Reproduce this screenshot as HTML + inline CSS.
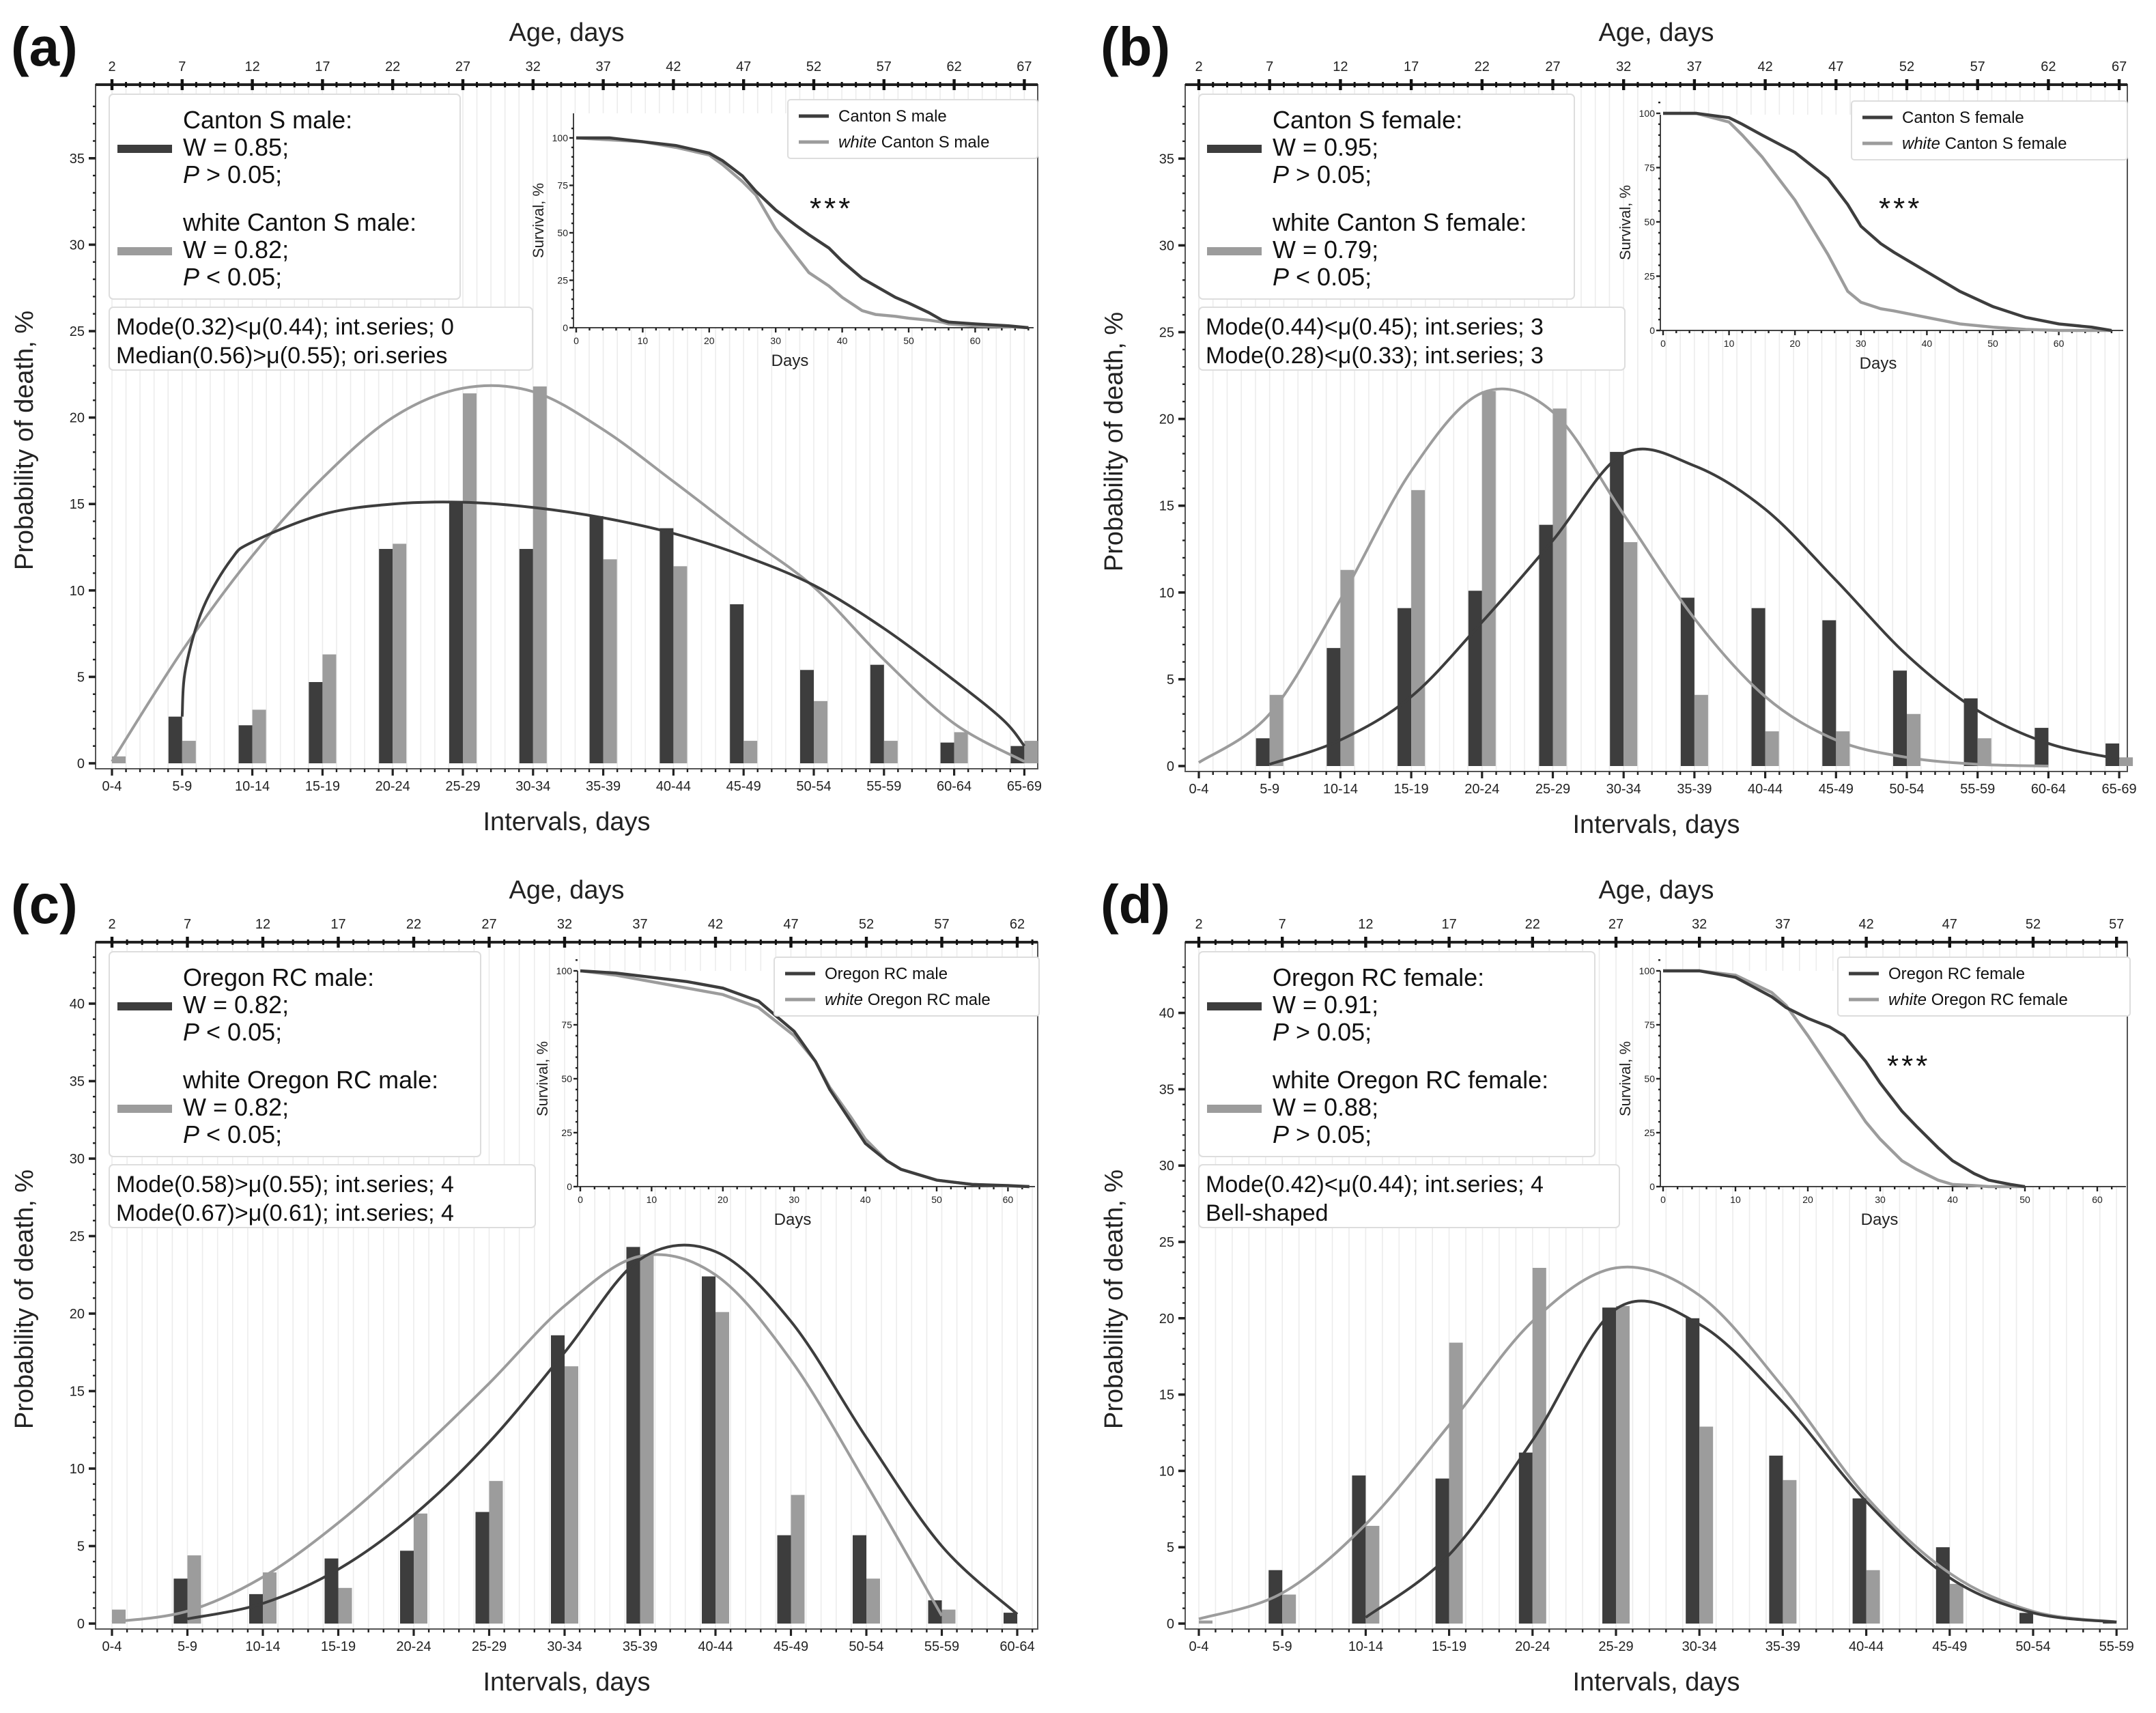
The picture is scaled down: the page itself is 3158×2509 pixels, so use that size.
<!DOCTYPE html>
<html><head><meta charset="utf-8">
<style>
html,body{margin:0;padding:0;background:#fff;}
svg{display:block;font-family:"Liberation Sans","DejaVu Sans",sans-serif;}
</style></head>
<body>
<svg id="fig" width="3158" height="2509" viewBox="0 0 1579 1254.5" xmlns="http://www.w3.org/2000/svg"></svg>
<script>
// ---------- DATA ----------
const catsA = ["0-4","5-9","10-14","15-19","20-24","25-29","30-34","35-39","40-44","45-49","50-54","55-59","60-64","65-69"];
const catsC = ["0-4","5-9","10-14","15-19","20-24","25-29","30-34","35-39","40-44","45-49","50-54","55-59","60-64"];
const catsD = ["0-4","5-9","10-14","15-19","20-24","25-29","30-34","35-39","40-44","45-49","50-54","55-59"];
const barsDarkA = [0,2.7,2.2,4.7,12.4,15.1,12.4,14.3,13.6,9.2,5.4,5.7,1.2,1.0];
const barsLightA = [0.4,1.3,3.1,6.3,12.7,21.4,21.8,11.8,11.4,1.3,3.6,1.3,1.8,1.3];
const barsDarkB = [0,1.6,6.8,9.1,10.1,13.9,18.1,9.7,9.1,8.4,5.5,3.9,2.2,1.3];
const barsLightB = [0,4.1,11.3,15.9,21.6,20.6,12.9,4.1,2.0,2.0,3.0,1.6,0,0.5];
const barsDarkC = [0,2.9,1.9,4.2,4.7,7.2,18.6,24.3,22.4,5.7,5.7,1.5,0.7];
const barsLightC = [0.9,4.4,3.3,2.3,7.1,9.2,16.6,23.8,20.1,8.3,2.9,0.9,0];
const barsDarkD = [0,3.5,9.7,9.5,11.2,20.7,20.0,11.0,8.2,5.0,0.7,0.2];
const barsLightD = [0.2,1.9,6.4,18.4,23.3,20.8,12.9,9.4,3.5,2.6,0,0];
// fitted curves (category index -> %)
const fitDarkAx = [1,1.05,1.3,1.7,2,3,4,5,6,7,8,9,10,11,12,12.7,13];
const fitDarkAy = [2.7,5.5,9,11.8,12.8,14.4,15,15.1,14.8,14.2,13.3,12,10.3,7.8,4.8,2.5,1];
const fitLightAx = [0,1,2,3,4,5,6,7,8,9,10,11,12,13];
const fitLightAy = [0.1,6.5,12,16.5,20,21.7,21.5,19.3,16.3,13.2,10.2,6,2.3,0.1];
const fitDarkBx = [1,2,3,4,5,6,7,8,9,10,11,12,13];
const fitDarkBy = [0.1,1.5,4,8.3,13,18.0,17.3,14.8,10.7,6.4,3.2,1.3,0.4];
const fitLightBx = [0,1,2,3,4,5,6,7,8,9,10,11,12];
const fitLightBy = [0.2,3,9.6,17,21.5,20.4,14.5,8.5,4,1.5,0.5,0.1,0];
const fitDarkCx = [1,2,3,4,5,6,7,8,9,10,11,12];
const fitDarkCy = [0.3,1.3,3.5,7,11.7,17.5,23.5,24.0,19.5,12,5,0.6];
const fitLightCx = [0,1,2,3,4,5,6,7,8,9,10,11];
const fitLightCy = [0.1,0.8,3,6.5,10.8,15.5,20.5,23.7,22.5,17,9,0.5];
const fitDarkDx = [2,3,4,5,6,7,8,9,10,11];
const fitDarkDy = [0.4,4.5,12,20.6,19.6,14.5,8,3,0.7,0.1];
const fitLightDx = [0,1,2,3,4,5,6,7,8,9,10,11];
const fitLightDy = [0.3,2,6.5,13,19.8,23.3,21.5,15.5,8.3,3.3,0.8,0.1];
// survival insets (day -> %)
const survDaysA = [0,5,10,15,20,22,25,27,30,33,35,38,40,43,45,48,50,53,55,56,60,65,68];
const survDarkA = [100,100,98,96,92,88,80,72,62,54,49,42,35,26,22,16,13,8,4,3,2,1,0];
const survLightA = [100,99,98,95,91,86,77,70,52,38,29,22,16,9,7,6,5,4,3,2,1,0.5,0];
const survDaysB = [0,5,10,12,15,20,25,28,30,33,35,40,45,50,55,60,65,68];
const survDarkB = [100,100,98,95,90,82,70,58,48,40,36,27,18,11,6,3,1.5,0];
const survLightB = [100,100,96,90,80,60,35,18,13,10,9,6,3,1.5,0.5,0,0,0];
const survDaysC = [0,5,10,15,20,25,30,33,35,38,40,43,45,50,55,60,63];
const survDarkC = [100,99,97,95,92,86,72,58,45,30,20,12,8,3,1,0.5,0];
const survLightC = [100,98,95,92,89,83,70,58,46,32,22,12,8,3,1,0.3,0];
const survDaysD = [0,5,10,15,17,20,23,25,28,30,33,35,38,40,43,45,48,50];
const survDarkD = [100,100,97,88,83,78,74,70,58,48,35,28,18,12,6,3,1,0];
const survLightD = [100,100,98,90,84,70,55,45,30,22,12,8,3,1,0.5,0,0,0];
const yTicksAB = [0,5,10,15,20,25,30,35];
const yTicksCD = [0,5,10,15,20,25,30,35,40];
const survTicks = [0,25,50,75,100];
const dayTicks = [0,10,20,30,40,50,60];

// ---------- DRAW ----------
const NS="http://www.w3.org/2000/svg";
const svg=document.getElementById('fig');
function el(tag,attrs,parent,txt){const e=document.createElementNS(NS,tag);for(const k in attrs)e.setAttribute(k,attrs[k]);if(txt!==undefined)e.textContent=txt;(parent||svg).appendChild(e);return e;}
const DARK="#3d3d3d", LIGHT="#9c9c9c";

function smoothPath(pts){
  let d="M"+pts[0][0]+","+pts[0][1];
  for(let i=0;i<pts.length-1;i++){
    const p0=pts[Math.max(0,i-1)],p1=pts[i],p2=pts[i+1],p3=pts[Math.min(pts.length-1,i+2)];
    const c1=[p1[0]+(p2[0]-p0[0])/6,p1[1]+(p2[1]-p0[1])/6];
    const c2=[p2[0]-(p3[0]-p1[0])/6,p2[1]-(p3[1]-p1[1])/6];
    d+=" C"+c1[0]+","+c1[1]+" "+c2[0]+","+c2[1]+" "+p2[0]+","+p2[1];
  }
  return d;
}
function stepPath(xs,ys,fx,fy){
  let d="";
  for(let i=0;i<xs.length;i++){d+=(i?"L":"M")+fx(xs[i])+","+fy(ys[i])+" ";}
  return d;
}

function panel(P){
  const g=el('g',{},svg);
  
  
  const fx=i=>P.x0+P.step*i, fy=v=>P.y0-P.py*v;
  const nDays=(P.cats.length-1)*5;
  for(let k=0;k<=nDays+1;k++){const x=P.x0+P.step*k/5; if(x>P.R)break; el('line',{x1:x,x2:x,y1:P.T,y2:P.B,stroke:"#ececec","stroke-width":0.8},g);}
  el('rect',{x:P.L,y:P.T,width:P.R-P.L,height:P.B-P.T,fill:"none",stroke:"#555","stroke-width":1},g);
  el('line',{x1:P.L,x2:P.R,y1:P.T,y2:P.T,stroke:"#222","stroke-width":2},g);
  for(let k=0;k<=nDays+1;k++){const x=P.x0+P.step*k/5;if(x>P.R)break;const maj=k%5===0;
    el('line',{x1:x,x2:x,y1:P.T-(maj?4:2),y2:P.T+(maj?4:2),stroke:"#111","stroke-width":maj?2.2:1.5},g);
    if(maj){const t=el('text',{x:x,y:P.T-10,"font-size":10,"text-anchor":"middle",fill:"#222"},g,String(2+k));}}
  const at=el('text',{x:(P.L+P.R)/2,y:P.T-32,"font-size":19,"text-anchor":"middle",fill:"#222"},g,"Age, days");
  
  for(let v=0;v<=P.yMaxMinor;v++){const y=fy(v);if(y<P.T)break;const maj=v%5===0;
    el('line',{x1:P.L-(maj?5:2),x2:P.L,y1:y,y2:y,stroke:"#222","stroke-width":maj?1.8:1.2},g);}
  P.yTicks.forEach(v=>{const t=el('text',{x:P.L-8,y:fy(v)+3.5,"font-size":10,"text-anchor":"end",fill:"#222"},g,String(v));});
  const yt=el('text',{x:0,y:0,"font-size":19,"text-anchor":"middle",fill:"#222",transform:`translate(${P.L-46},${(P.T+P.B)/2+10}) rotate(-90)`},g,"Probability of death, %");
  
  P.cats.forEach((c,i)=>{const x=fx(i);el('line',{x1:x,x2:x,y1:P.B,y2:P.B+5,stroke:"#222","stroke-width":1.6},g);
    for(let m=1;m<5;m++){const xm=x+P.step*m/5;if(xm<P.R)el('line',{x1:xm,x2:xm,y1:P.B,y2:P.B+2.5,stroke:"#222","stroke-width":1.2},g);}
    const t=el('text',{x:x,y:P.B+16,"font-size":10,"text-anchor":"middle",fill:"#222"},g,c);});
  const xt=el('text',{x:(P.L+P.R)/2,y:P.B+45,"font-size":19,"text-anchor":"middle",fill:"#222"},g,"Intervals, days");
  
  P.dark.forEach((v,i)=>{if(v<=0)return;const r=el('rect',{x:fx(i)-10,y:fy(v),width:10,height:P.y0-fy(v),fill:DARK},g);});
  P.light.forEach((v,i)=>{if(v<=0)return;const r=el('rect',{x:fx(i),y:fy(v),width:10,height:P.y0-fy(v),fill:LIGHT},g);});
  const cl=el('path',{d:smoothPath(P.flx.map((x,i)=>[fx(x),fy(P.fly[i])])),fill:"none",stroke:LIGHT,"stroke-width":2},g);
  
  const cd=el('path',{d:smoothPath(P.fdx.map((x,i)=>[fx(x),fy(P.fdy[i])])),fill:"none",stroke:DARK,"stroke-width":2},g);
  
  const pl=el('text',{x:P.L-62,y:P.T-14,"font-size":40,"font-weight":"bold",fill:"#111"},g,"("+P.id+")");
  
  const lb=el('g',{},g);
  el('rect',{x:P.L+10,y:P.T+7,width:P.lgW,height:150,rx:3,fill:"#fff",stroke:"#ddd","stroke-width":1},lb);
  el('line',{x1:P.L+16,x2:P.L+56,y1:P.T+47,y2:P.T+47,stroke:DARK,"stroke-width":6},lb);
  el('line',{x1:P.L+16,x2:P.L+56,y1:P.T+122,y2:P.T+122,stroke:LIGHT,"stroke-width":6},lb);
  P.lg.forEach((s,i)=>{const y=P.T+32+i*20+(i>=3?15:0);
    const t=el('text',{x:P.L+64,y:y,"font-size":18,fill:"#111"},lb);
    if(s.startsWith("P ")){el('tspan',{"font-style":"italic"},t,"P");el('tspan',{},t,s.slice(1));}else t.textContent=s;});
  const sb=el('g',{},g);
  el('rect',{x:P.L+10,y:P.T+163,width:P.sbW,height:46,rx:3,fill:"#fff",stroke:"#ddd","stroke-width":1},sb);
  P.sb.forEach((s,i)=>el('text',{x:P.L+15,y:P.T+183+i*21,"font-size":17,fill:"#111"},sb,s));
  const I=P.ins, ig=el('g',{},g);
  const ix=d=>I.x0+I.pd*d, iy=s=>I.y0-(I.y0-I.y100)*s/100;
  el('rect',{x:I.L,y:I.T,width:I.R-I.L,height:I.y0-I.T,fill:"#fff"},ig);
  el('line',{x1:I.L,x2:I.L,y1:I.T,y2:I.y0,stroke:"#444","stroke-width":1},ig);
  el('line',{x1:I.L,x2:I.R,y1:I.y0,y2:I.y0,stroke:"#444","stroke-width":1},ig);
  for(let s=0;s<=105;s+=5){el('line',{x1:I.L-(s%25?1.5:3),x2:I.L,y1:iy(s),y2:iy(s),stroke:"#222","stroke-width":1.2},ig);}
  survTicks.forEach(s=>el('text',{x:I.L-4,y:iy(s)+2.5,"font-size":7,"text-anchor":"end",fill:"#222"},ig,String(s)));
  for(let d=0;ix(d)<=I.R;d+=2){el('line',{x1:ix(d),x2:ix(d),y1:I.y0,y2:I.y0+(d%10?2:3.5),stroke:"#222","stroke-width":1.2},ig);}
  dayTicks.forEach(d=>{if(ix(d)<=I.R)el('text',{x:ix(d),y:I.y0+12,"font-size":7,"text-anchor":"middle",fill:"#222"},ig,String(d));});
  el('text',{x:(I.L+I.R)/2-10,y:I.y0+28,"font-size":12,"text-anchor":"middle",fill:"#222"},ig,"Days");
  el('text',{x:0,y:0,"font-size":11,"text-anchor":"middle",fill:"#222",transform:`translate(${I.L-22},${(I.T+I.y0)/2}) rotate(-90)`},ig,"Survival, %");
  const sl=el('path',{d:stepPath(P.sDays,P.sLight,ix,iy),fill:"none",stroke:LIGHT,"stroke-width":2.2},ig);
  
  const sd=el('path',{d:stepPath(P.sDays,P.sDark,ix,iy),fill:"none",stroke:DARK,"stroke-width":2.2},ig);
  
  if(P.stars)el('text',{x:P.stars[0],y:P.stars[1],"font-size":22,fill:"#111","letter-spacing":"2"},ig,"***");
  el('rect',{x:I.lgX,y:I.T-10,width:I.R+3-I.lgX,height:43,rx:2,fill:"#fff",stroke:"#ddd","stroke-width":1},ig);
  el('line',{x1:I.lgX+8,x2:I.lgX+30,y1:I.T+2,y2:I.T+2,stroke:DARK,"stroke-width":2.5},ig);
  el('line',{x1:I.lgX+8,x2:I.lgX+30,y1:I.T+21,y2:I.T+21,stroke:LIGHT,"stroke-width":2.5},ig);
  el('text',{x:I.lgX+37,y:I.T+6,"font-size":12,fill:"#111"},ig,P.insLab);
  const t2=el('text',{x:I.lgX+37,y:I.T+25,"font-size":12,fill:"#111"},ig);
  el('tspan',{"font-style":"italic"},t2,"white");el('tspan',{},t2," "+P.insLab);
}

panel({id:"a",L:70,R:760,T:62,B:563,x0:82,step:51.4,y0:559,py:12.66,yMaxMinor:38,yTicks:yTicksAB,cats:catsA,dark:barsDarkA,light:barsLightA,
 fdx:fitDarkAx,fdy:fitDarkAy,flx:fitLightAx,fly:fitLightAy,lgW:257,sbW:310,
 lg:["Canton S male:","W = 0.85;","P > 0.05;","white Canton S male:","W = 0.82;","P < 0.05;"],
 sb:["Mode(0.32)<\u03bc(0.44); int.series; 0","Median(0.56)>\u03bc(0.55); ori.series"],
 ins:{L:420,R:757,T:83,x0:422,pd:4.87,y0:240,y100:101,lgX:577},insLab:"Canton S male",
 sDays:survDaysA,sDark:survDarkA,sLight:survLightA,stars:[593,160]});
panel({id:"b",L:868,R:1558,T:62,B:565,x0:878,step:51.85,y0:561,py:12.71,yMaxMinor:38,yTicks:yTicksAB,cats:catsA,dark:barsDarkB,light:barsLightB,
 fdx:fitDarkBx,fdy:fitDarkBy,flx:fitLightBx,fly:fitLightBy,lgW:275,sbW:312,
 lg:["Canton S female:","W = 0.95;","P > 0.05;","white Canton S female:","W = 0.79;","P < 0.05;"],
 sb:["Mode(0.44)<\u03bc(0.45); int.series; 3","Mode(0.28)<\u03bc(0.33); int.series; 3"],
 ins:{L:1216,R:1555,T:84,x0:1218,pd:4.83,y0:242,y100:83,lgX:1356},insLab:"Canton S female",
 sDays:survDaysB,sDark:survDarkB,sLight:survLightB,stars:[1376,160]});
panel({id:"c",L:70,R:760,T:690,B:1193,x0:82,step:55.25,y0:1189,py:11.35,yMaxMinor:43,yTicks:yTicksCD,cats:catsC,dark:barsDarkC,light:barsLightC,
 fdx:fitDarkCx,fdy:fitDarkCy,flx:fitLightCx,fly:fitLightCy,lgW:272,sbW:312,
 lg:["Oregon RC male:","W = 0.82;","P < 0.05;","white Oregon RC male:","W = 0.82;","P < 0.05;"],
 sb:["Mode(0.58)>\u03bc(0.55); int.series; 4","Mode(0.67)>\u03bc(0.61); int.series; 4"],
 ins:{L:423,R:758,T:711,x0:425,pd:5.22,y0:869,y100:711,lgX:567},insLab:"Oregon RC male",
 sDays:survDaysC,sDark:survDarkC,sLight:survLightC,stars:null});
panel({id:"d",L:868,R:1558,T:690,B:1193,x0:878,step:61.1,y0:1189,py:11.18,yMaxMinor:43,yTicks:yTicksCD,cats:catsD,dark:barsDarkD,light:barsLightD,
 fdx:fitDarkDx,fdy:fitDarkDy,flx:fitLightDx,fly:fitLightDy,lgW:290,sbW:308,
 lg:["Oregon RC female:","W = 0.91;","P > 0.05;","white Oregon RC female:","W = 0.88;","P > 0.05;"],
 sb:["Mode(0.42)<\u03bc(0.44); int.series; 4","Bell-shaped"],
 ins:{L:1216,R:1557,T:711,x0:1218,pd:5.3,y0:869,y100:711,lgX:1346},insLab:"Oregon RC female",
 sDays:survDaysD,sDark:survDarkD,sLight:survLightD,stars:[1382,788]});
</script>
</body></html>
